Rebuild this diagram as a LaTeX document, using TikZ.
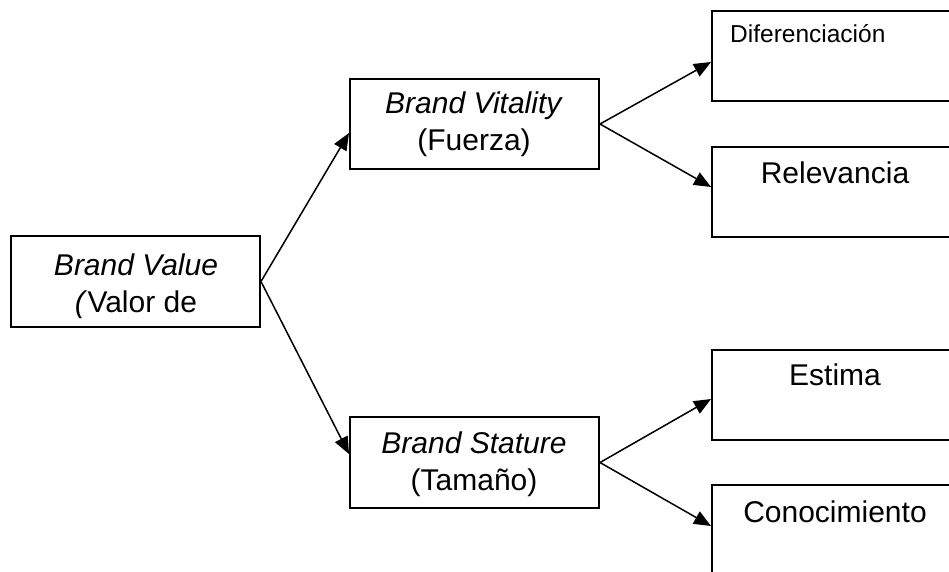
\documentclass[tikz,border=0pt]{standalone}
\usepackage{fontspec}
\setmainfont{Liberation Sans}
\usetikzlibrary{arrows.meta}
\begin{document}
\begin{tikzpicture}[x=1pt,y=-1pt,
 box/.style={draw, line width=2pt, rectangle, minimum width=249pt, minimum height=90pt, anchor=north west, inner sep=0pt},
 txt/.style={font=\fontsize{30}{37}\selectfont, anchor=base, inner sep=0pt, align=center},
 small/.style={font=\fontsize{24.5}{29}\selectfont, anchor=base west, inner sep=0pt},
 arr/.style={line width=1.5pt, -{Triangle[length=17pt,width=14pt]}}]
\useasboundingbox (0,0) rectangle (949,571);
\clip (0,0) rectangle (949,571);
% boxes
\node[box, minimum height=91pt] (bv) at (10,235) {};
\node[box] (vit) at (349,78) {};
\node[box, minimum height=91pt] (sta) at (349,416) {};
\node[box] (dif) at (711,10) {};
\node[box] (rel) at (711,146) {};
\node[box] (est) at (711,349) {};
\node[box, minimum height=91pt] (con) at (711,484) {};
% texts (base anchor = last line's baseline)
\node[txt] (bvt) at (136,312) {\textit{Brand Value}\\\textit{(}Valor de};
\node[txt] (vitt) at (474,150) {\textit{Brand Vitality}\\(Fuerza)};
\node[txt] (stat) at (474,490) {\textit{Brand Stature}\\(Tamaño)};
\node[small] (dift) at (730,42) {Diferenciación};
\node[txt] (relt) at (835,183) {Relevancia};
\node[txt] (estt) at (835,385) {Estima};
\node[txt] (cont) at (835,522) {Conocimiento};
% connectors
\draw[arr] (bv.east) -- ([yshift=-9pt]vit.west);
\draw[arr] (bv.east) -- ([yshift=8.5pt]sta.west);
\draw[arr] (vit.east) -- ([yshift=-6pt]dif.west);
\draw[arr] (vit.east) -- ([yshift=5pt]rel.west);
\draw[arr] (sta.east) -- ([yshift=-4pt]est.west);
\draw[arr] (sta.east) -- ([yshift=4.5pt]con.west);
\end{tikzpicture}
\end{document}
